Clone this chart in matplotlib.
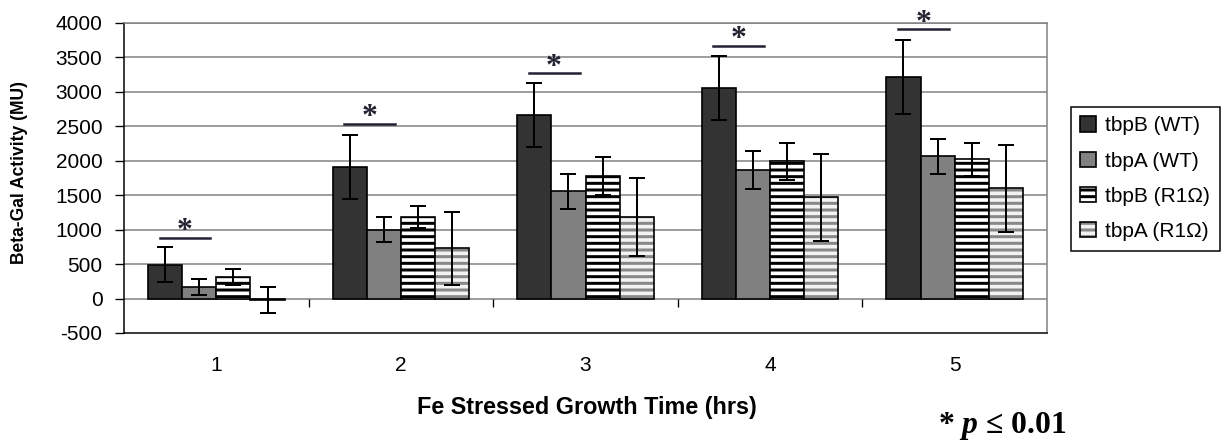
import matplotlib
matplotlib.use("Agg")
import matplotlib.pyplot as plt
import numpy as np
from matplotlib.patches import Patch
from matplotlib.legend_handler import HandlerTuple

# ---- data ----
hours = [1, 2, 3, 4, 5]
series_names = ["tbpB (WT)", "tbpA (WT)", "tbpB (R1Ω)", "tbpA (R1Ω)"]
tbpB_WT = [492, 1910, 2665, 3050, 3220]
tbpA_WT = [168, 1000, 1560, 1865, 2065]
tbpB_R1 = [310, 1180, 1780, 1990, 2020]
tbpA_R1 = [-20, 730, 1190, 1470, 1600]
tbpB_WT_err = [250, 470, 470, 465, 540]
tbpA_WT_err = [120, 180, 255, 280, 250]
tbpB_R1_err = [120, 160, 272, 265, 240]
tbpA_R1_err = [190, 530, 566, 630, 630]
sig_line = [880, 2540, 3270, 3670, 3910]
yticks = list(range(-500, 4001, 500))

plt.rcParams['font.family'] = ['Liberation Sans', 'DejaVu Sans']
plt.rcParams['axes.unicode_minus'] = False
plt.rcParams['hatch.linewidth'] = 1.8
plt.rcParams['mathtext.fontset'] = 'custom'
plt.rcParams['mathtext.bfit'] = 'Liberation Serif:italic:bold'
plt.rcParams['mathtext.it'] = 'Liberation Serif:italic:bold'
plt.rcParams['mathtext.rm'] = 'Liberation Serif:bold'

W, H, DPI = 1231, 440, 120
fig = plt.figure(figsize=(W / DPI, H / DPI), dpi=DPI)
ax = fig.add_axes([124 / W, (H - 333) / H, 923 / W, 310 / H])

x = np.array(hours, dtype=float)
bw = 0.185
offs = [-1.5 * bw, -0.5 * bw, 0.5 * bw, 1.5 * bw]
ekw = dict(ecolor='black', elinewidth=1.2, capsize=4.8, capthick=1.2)

ax.set_axisbelow(True)
for yv in yticks[1:]:
    ax.axhline(yv, color='#808080', lw=0.9, zorder=0)

ax.bar(x + offs[0], tbpB_WT, bw, color='#333333', edgecolor='black', lw=1.0,
       yerr=tbpB_WT_err, error_kw=ekw, zorder=2)
ax.bar(x + offs[1], tbpA_WT, bw, color='#808080', edgecolor='black', lw=1.0,
       yerr=tbpA_WT_err, error_kw=ekw, zorder=2)
ax.bar(x + offs[2], tbpB_R1, bw, color='white', edgecolor='black', lw=1.0,
       hatch='---', yerr=tbpB_R1_err, error_kw=ekw, zorder=2)
ax.bar(x + offs[3], tbpA_R1, bw, color='#f2f2f2', edgecolor='#888888', lw=0,
       hatch='---', zorder=2)
ax.bar(x + offs[3], tbpA_R1, bw, fill=False, edgecolor='black', lw=1.0,
       yerr=tbpA_R1_err, error_kw=ekw, zorder=3)

# category separator ticks at the zero line
ax.vlines([1.5, 2.5, 3.5, 4.5], -120, 0, color='black', lw=0.8, zorder=1)

# significance markers
for xi, yl in zip(x, sig_line):
    x0 = xi + offs[0] - 0.03
    x1 = xi + offs[0] + 0.245
    ax.plot([x0, x1], [yl, yl], color='#222233', lw=1.5, zorder=4, clip_on=False)
    ax.text((x0 + x1) / 2, yl - 20, '*', ha='center', va='baseline', fontsize=19,
            fontweight='bold', family='Liberation Serif', color='#222233',
            zorder=4, clip_on=False)

ax.set_xlim(0.5, 5.5)
ax.set_ylim(-500, 4000)
ax.set_yticks(yticks)
ax.set_xticks(x)
ax.set_xticklabels([str(h) for h in hours])
ax.tick_params(axis='x', length=0, pad=14, labelsize=12.5)
ax.tick_params(axis='y', length=5.4, width=0.8, pad=7.5, labelsize=12.5, direction='out')

for s in ['left', 'bottom']:
    ax.spines[s].set_color('black')
    ax.spines[s].set_linewidth(0.9)
for s in ['top', 'right']:
    ax.spines[s].set_color('#808080')
    ax.spines[s].set_linewidth(0.9)

ax.set_ylabel('Beta-Gal Activity (MU)', fontsize=10.5, fontweight='bold')
ax.yaxis.set_label_coords(-0.104, 0.519)
ax.set_xlabel('Fe Stressed Growth Time (hrs)', fontsize=14, fontweight='bold')
ax.xaxis.set_label_coords(0.502, -0.239)
ax.xaxis.label.set_va('center')

handles = [
    Patch(facecolor='#333333', edgecolor='black', lw=1.0),
    Patch(facecolor='#808080', edgecolor='black', lw=1.0),
    Patch(facecolor='white', edgecolor='black', hatch='---', lw=1.0),
    (Patch(facecolor='#f2f2f2', edgecolor='#888888', hatch='---', lw=0),
     Patch(fill=False, edgecolor='black', lw=1.0)),
]
leg = fig.legend(handles, series_names, loc='upper left',
                 bbox_to_anchor=(1071 / W, 1 - 107 / H), fontsize=12.5,
                 handlelength=0.75, handleheight=0.75, handletextpad=0.45,
                 labelspacing=0.78, borderpad=0.45, borderaxespad=0,
                 fancybox=False, edgecolor='black', framealpha=1,
                 handler_map={tuple: HandlerTuple(ndivide=1, pad=0)})
leg.get_frame().set_linewidth(0.9)

fig.text(938 / W, (H - 433) / H, r'* $\mathbfit{p}$ ≤ 0.01', fontsize=19,
         family='Liberation Serif', fontweight='bold', ha='left', va='baseline')

fig.savefig('out.png', dpi=DPI)
